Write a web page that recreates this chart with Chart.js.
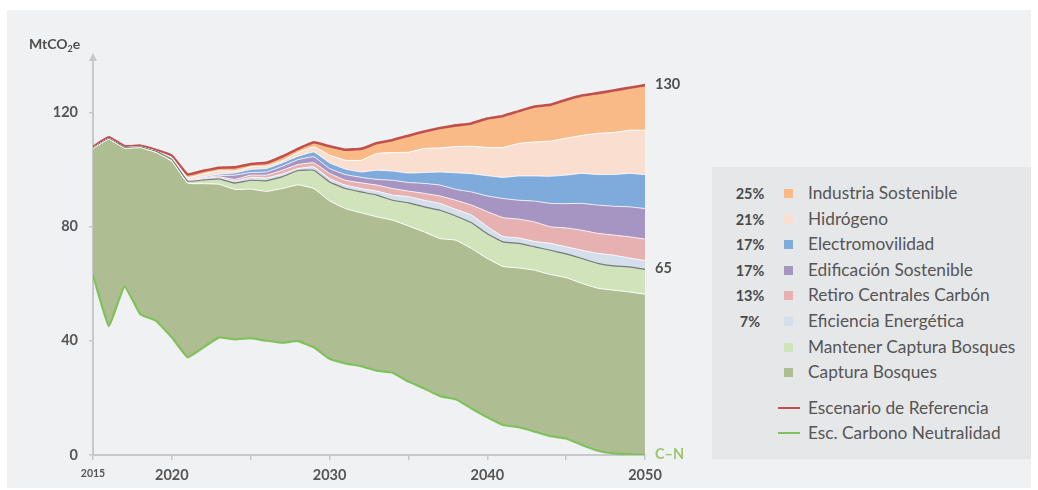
<!DOCTYPE html>
<html>
<head>
<meta charset="utf-8">
<script src="https://cdn.jsdelivr.net/npm/chart.js@4.4.1/dist/chart.umd.min.js"></script>
<style>
  html, body { margin: 0; padding: 0; background: #ffffff; }
  body { width: 1038px; height: 490px; position: relative; overflow: hidden; font-family: Lato, "Open Sans", sans-serif; }
  #panel { position: absolute; left: 7px; top: 10px; width: 1024px; height: 478px; background: #f0f1f3; }
  #c { position: absolute; left: 0; top: 0; }
  .lbl { position: absolute; font-weight: bold; font-size: 14.5px; color: #4f4f4f; line-height: 1; white-space: nowrap; }
  #unit { left: 29px; top: 37px; font-size: 14px; }
  #unit sub { font-size: 9px; vertical-align: -3px; }
  #legend { position: absolute; left: 712px; top: 167px; width: 319px; height: 292px; background: #e6e7e9; }
  .row { position: absolute; left: 0; height: 20px; width: 319px; }
  .pct { position: absolute; left: 17px; width: 42px; text-align: center; font-weight: bold; font-size: 14.5px; color: #4a4a4a; top: 2px; }
  .sw { position: absolute; left: 72px; top: 6px; width: 9px; height: 9px; }
  .ln { position: absolute; left: 66px; top: 9px; width: 22px; height: 2px; }
  .txt { position: absolute; left: 96px; top: -1px; font-size: 17.3px; color: #555555; white-space: nowrap; }
</style>
</head>
<body>
<div id="panel"></div>
<canvas id="c" width="700" height="490"></canvas>
<div id="unit" class="lbl">MtCO<sub>2</sub>e</div>
<div id="legend"></div>
<script>
// ---- Data (MtCO2e) ----
const years = [2015,2016,2017,2018,2019,2020,2021,2022,2023,2024,2025,2026,2027,2028,2029,2030,2031,2032,2033,2034,2035,2036,2037,2038,2039,2040,2041,2042,2043,2044,2045,2046,2047,2048,2049,2050];

// Esc. Carbono Neutralidad (green line, bottom of the wedges)
const carbonoNeutralidad = [63.0,45.1,59.1,49.3,47.0,41.2,34.2,37.7,41.2,40.5,40.9,40.0,39.3,39.9,37.7,33.7,32.1,31.1,29.5,28.8,25.7,23.3,20.6,19.5,16.3,13.2,10.5,9.7,8.2,6.6,5.8,3.5,1.5,0.6,0.3,0.0];

// Upper boundary of each wedge (cumulative level)
const capturaBosques = [107.3,110.5,107.4,107.6,105.9,102.8,95.2,95.0,94.8,93.0,93.1,92.3,93.3,94.6,93.3,89.0,86.3,84.8,83.4,82.2,80.2,78.1,75.8,75.2,72.3,68.8,66.0,65.5,64.7,63.2,62.1,60.1,58.4,57.7,57.1,56.3];
const mantenerCaptura = [107.5,110.8,107.7,107.9,106.3,103.5,95.9,96.3,96.7,95.2,96.2,96.0,97.4,99.6,99.7,95.6,93.3,92.1,91.0,89.2,88.3,86.9,85.7,83.7,81.3,77.5,74.6,74.1,72.9,71.7,70.4,68.8,67.1,66.2,65.9,65.0];
const eficiencia = [107.5,110.8,107.7,107.9,106.3,103.6,96.1,96.5,97.0,95.9,97.2,97.0,98.4,100.3,100.9,96.8,94.5,93.3,92.4,91.0,90.5,89.2,88.1,86.0,84.0,80.0,76.5,76.0,74.8,74.1,72.9,71.7,70.6,70.0,69.0,68.1];
const retiroCarbon = [107.5,110.8,107.7,107.9,106.3,103.7,96.3,96.8,97.4,96.5,98.0,98.0,99.7,101.7,102.3,98.6,96.2,95.3,94.5,93.3,92.4,91.6,90.7,89.2,87.5,85.2,83.1,82.6,81.6,79.9,79.5,78.7,77.6,77.0,76.4,75.6];
const edificacion = [107.5,110.8,107.7,107.9,106.3,103.8,96.5,97.1,97.8,98.0,98.9,99.1,101.1,103.4,104.4,100.3,98.2,97.2,96.5,96.2,95.4,95.1,94.5,93.0,92.1,90.7,89.8,89.2,88.9,88.1,88.0,88.1,87.5,87.1,86.9,86.3];
const electromovilidad = [107.5,110.8,107.7,107.9,106.3,103.9,96.7,97.4,98.3,98.8,100.0,100.3,102.3,104.6,106.1,102.3,100.1,99.1,99.7,99.4,98.7,98.9,99.1,98.8,98.5,97.8,97.2,97.7,97.7,97.6,98.0,98.6,98.2,98.2,98.6,98.2];
const hidrogeno = [107.5,110.8,107.7,107.9,106.4,104.2,97.2,98.4,99.5,99.4,100.9,101.1,103.0,105.9,107.9,105.0,103.2,103.2,105.6,105.9,106.0,107.3,107.5,108.0,108.1,107.7,107.7,109.1,109.6,109.9,110.9,111.9,112.6,112.9,113.7,113.7];
// Escenario de Referencia (red line) = top of Industria Sostenible
const referencia = [107.9,111.2,108.1,108.3,106.8,104.8,98.2,99.5,100.6,100.7,101.9,102.3,104.5,107.2,109.5,108.1,106.9,107.2,109.2,110.3,111.8,113.3,114.5,115.4,116.1,117.8,118.7,120.4,122.0,122.6,124.4,125.9,126.7,127.6,128.6,129.5];

const yTicks = [0, 40, 80, 120];
const xTickLabels = [2015, 2020, 2030, 2040, 2050];

const legendPct = ['25%','21%','17%','17%','13%','7%','',''];
const legendNames = ['Industria Sostenible','Hidrógeno','Electromovilidad','Edificación Sostenible','Retiro Centrales Carbón','Eficiencia Energética','Mantener Captura Bosques','Captura Bosques'];
const legendLines = ['Escenario de Referencia','Esc. Carbono Neutralidad'];

// ---- Styles ----
const C = {
  industria: '#f9ba87', hidrogeno: '#fadfd0', electro: '#7eabdb', edif: '#a694c2',
  retiro: '#e6b1b0', efic: '#d4dfeb', mantener: '#d0e3ba', captura: '#afbd92',
  red: '#c0504d', green: '#7fc25c', grey: '#76787a', axis: '#c6c8ca', text: '#555555'
};
const wedgeColors = [C.industria, C.hidrogeno, C.electro, C.edif, C.retiro, C.efic, C.mantener, C.captura];

const pts = arr => years.map((yr, i) => ({ x: yr, y: arr[i] }));
const base = { pointRadius: 0, pointHoverRadius: 0, tension: 0.1 };

const datasets = [
  Object.assign({}, base, { label: 'Esc. Carbono Neutralidad', data: pts(carbonoNeutralidad), borderColor: C.green, borderWidth: 2.2, fill: false }),
  Object.assign({}, base, { label: 'Captura Bosques', data: pts(capturaBosques), borderColor: '#ffffff', borderWidth: 1, backgroundColor: C.captura, fill: '-1' }),
  Object.assign({}, base, { label: 'Mantener Captura Bosques', data: pts(mantenerCaptura), borderColor: C.grey, borderWidth: 1.2, backgroundColor: C.mantener, fill: '-1' }),
  Object.assign({}, base, { label: 'Eficiencia Energética', data: pts(eficiencia), borderColor: '#ffffff', borderWidth: 0.8, backgroundColor: C.efic, fill: '-1' }),
  Object.assign({}, base, { label: 'Retiro Centrales Carbón', data: pts(retiroCarbon), borderColor: '#ffffff', borderWidth: 0.8, backgroundColor: C.retiro, fill: '-1' }),
  Object.assign({}, base, { label: 'Edificación Sostenible', data: pts(edificacion), borderColor: '#ffffff', borderWidth: 0.8, backgroundColor: C.edif, fill: '-1' }),
  Object.assign({}, base, { label: 'Electromovilidad', data: pts(electromovilidad), borderColor: '#ffffff', borderWidth: 0.8, backgroundColor: C.electro, fill: '-1' }),
  Object.assign({}, base, { label: 'Hidrógeno', data: pts(hidrogeno), borderColor: '#ffffff', borderWidth: 1, backgroundColor: C.hidrogeno, fill: '-1' }),
  Object.assign({}, base, { label: 'Industria Sostenible', data: pts(referencia), borderColor: C.red, borderWidth: 2.6, backgroundColor: C.industria, fill: '-1' })
];

const arrowPlugin = {
  id: 'arrow',
  afterDraw(chart) {
    const ctx = chart.ctx, x = chart.scales.y.left + chart.scales.y.width, top = chart.chartArea.top;
    ctx.save();
    ctx.fillStyle = C.axis;
    ctx.beginPath();
    ctx.moveTo(x, top - 5);
    ctx.lineTo(x - 4, top + 3);
    ctx.lineTo(x + 4, top + 3);
    ctx.closePath();
    ctx.fill();
    ctx.restore();
  }
};

const chart = new Chart(document.getElementById('c'), {
  type: 'line',
  data: { datasets },
  plugins: [arrowPlugin],
  options: {
    responsive: false,
    animation: false,
    devicePixelRatio: 1,
    layout: { padding: { top: 58, right: 55, left: 0, bottom: 0 } },
    plugins: { legend: { display: false }, tooltip: { enabled: false } },
    elements: { line: { borderJoinStyle: 'round', borderCapStyle: 'round' } },
    scales: {
      x: {
        type: 'linear', min: 2015, max: 2050,
        afterFit: s => { s.height = 35; },
        ticks: {
          stepSize: 5, autoSkip: false, maxRotation: 0, padding: 7, color: '#555555',
          callback: v => xTickLabels.includes(v) ? String(v) : '',
          font: ctx => (ctx.tick && ctx.tick.value === 2015) ? { family: 'Lato', size: 10.5, weight: 'bold' } : { family: 'Lato', size: 14.5, weight: 'bold' }
        },
        grid: { display: true, drawOnChartArea: false, drawTicks: true, tickLength: 5, color: C.axis, lineWidth: 1.5 },
        border: { display: true, color: C.axis, width: 2 }
      },
      y: {
        min: 0, max: 139,
        afterFit: s => { s.width = 93; },
        afterBuildTicks: s => { s.ticks = yTicks.map(v => ({ value: v })); },
        ticks: { padding: 11, color: '#555555', font: { family: 'Lato', size: 14.5, weight: 'bold' }, callback: v => String(v) },
        grid: { display: true, drawOnChartArea: false, drawTicks: true, tickLength: 4, color: C.axis, lineWidth: 1.5 },
        border: { display: true, color: C.axis, width: 2 }
      }
    }
  }
});

// End labels positioned from the scales
function endLabel(text, value, color) {
  const d = document.createElement('div');
  d.className = 'lbl';
  d.textContent = text;
  d.style.color = color;
  d.style.left = (chart.scales.x.getPixelForValue(2050) + 10) + 'px';
  d.style.top = (chart.scales.y.getPixelForValue(value) - 8) + 'px';
  document.body.appendChild(d);
}
endLabel('130', referencia[referencia.length - 1], '#4f4f4f');
endLabel('65', mantenerCaptura[mantenerCaptura.length - 1], '#4f4f4f');
endLabel('C–N', carbonoNeutralidad[carbonoNeutralidad.length - 1], '#9cc56c');

// Legend
const leg = document.getElementById('legend');
legendNames.forEach((name, i) => {
  const r = document.createElement('div');
  r.className = 'row';
  r.style.top = (16 + i * 25.6) + 'px';
  r.innerHTML = '<span class="pct">' + legendPct[i] + '</span><span class="sw" style="background:' + wedgeColors[i] + '"></span><span class="txt">' + name + '</span>';
  leg.appendChild(r);
});
legendLines.forEach((name, i) => {
  const r = document.createElement('div');
  r.className = 'row';
  r.style.top = (231 + i * 25) + 'px';
  r.innerHTML = '<span class="ln" style="background:' + (i === 0 ? C.red : C.green) + '"></span><span class="txt">' + name + '</span>';
  leg.appendChild(r);
});
</script>
</body>
</html>
